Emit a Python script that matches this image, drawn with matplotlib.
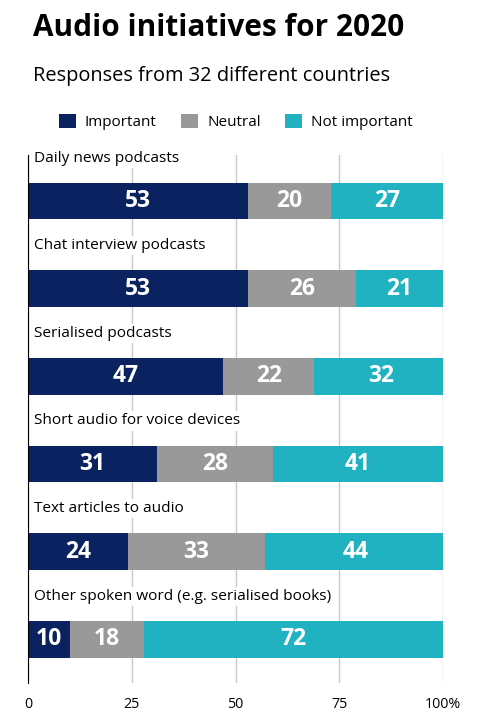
import numpy as np
import matplotlib.pyplot as plt
from matplotlib.patches import Patch

# ==========================================================
# data
# ==========================================================
categories = ["Daily news podcasts", "Chat interview podcasts", "Serialised podcasts",
              "Short audio for voice devices", "Text articles to audio",
              "Other spoken word (e.g. serialised books)"]
important = [53, 53, 47, 31, 24, 10]
neutral = [20, 26, 22, 28, 33, 18]
not_important = [27, 21, 32, 41, 44, 72]
series_names = ["Important", "Neutral", "Not important"]
tick_vals = [0, 25, 50, 75, 100]
tick_labels = ["0", "25", "50", "75", "100%"]

colors = ["#0b2260", "#999999", "#20b2c0"]

plt.rcParams['font.family'] = ['Open Sans', 'DejaVu Sans']

fig = plt.figure(figsize=(4.92, 7.15), dpi=100)
ax = fig.add_axes([28 / 492, 1 - 683 / 715, (443 - 28) / 492, (683 - 155) / 715])

y = np.arange(len(categories))
left = np.zeros(len(categories))
for vals, col, name in zip([important, neutral, not_important], colors, series_names):
    vals = np.array(vals)
    ax.barh(y, vals, left=left, height=0.42, color=col, zorder=3, label=name)
    for yi, l, v in zip(y, left, vals):
        ax.text(l + v / 2, yi, str(v), ha='center', va='center', color='white',
                fontsize=16.5, fontweight='bold', zorder=5)
    left += vals

# category labels sit above each bar, masking the grid
for yi, cat in zip(y, categories):
    ax.text(1.5, yi - 0.49, cat, ha='left', va='center', fontsize=11.1, color='black', zorder=4,
            bbox=dict(facecolor='white', edgecolor='none', pad=1.5))

ax.set_xlim(0, 100)
ax.set_ylim(len(categories) - 0.5, -0.525)
ax.set_xticks(tick_vals)
ax.set_xticklabels(tick_labels, fontsize=10.3)
ax.tick_params(axis='x', length=0, pad=10)
ax.set_yticks([])
ax.grid(True, axis='x', color='#c8c8c8', lw=1, zorder=0)
for s in ['top', 'right', 'bottom']:
    ax.spines[s].set_visible(False)
ax.spines['left'].set_color('black')
ax.spines['left'].set_zorder(6)

fig.text(33 / 492, 1 - 28 / 715, "Audio initiatives for 2020", fontsize=21.4, fontweight='bold',
         ha='left', va='center')
fig.text(33 / 492, 1 - 76 / 715, "Responses from 32 different countries", fontsize=14.4,
         ha='left', va='center')

handles = [Patch(facecolor=c) for c in colors]
fig.legend(handles, series_names, loc='center', bbox_to_anchor=(236 / 492, 1 - 122 / 715),
           ncol=3, frameon=False, fontsize=11, handlelength=1.1, handleheight=1.1,
           handletextpad=0.6, columnspacing=1.6)

fig.savefig("out.png", dpi=100)
